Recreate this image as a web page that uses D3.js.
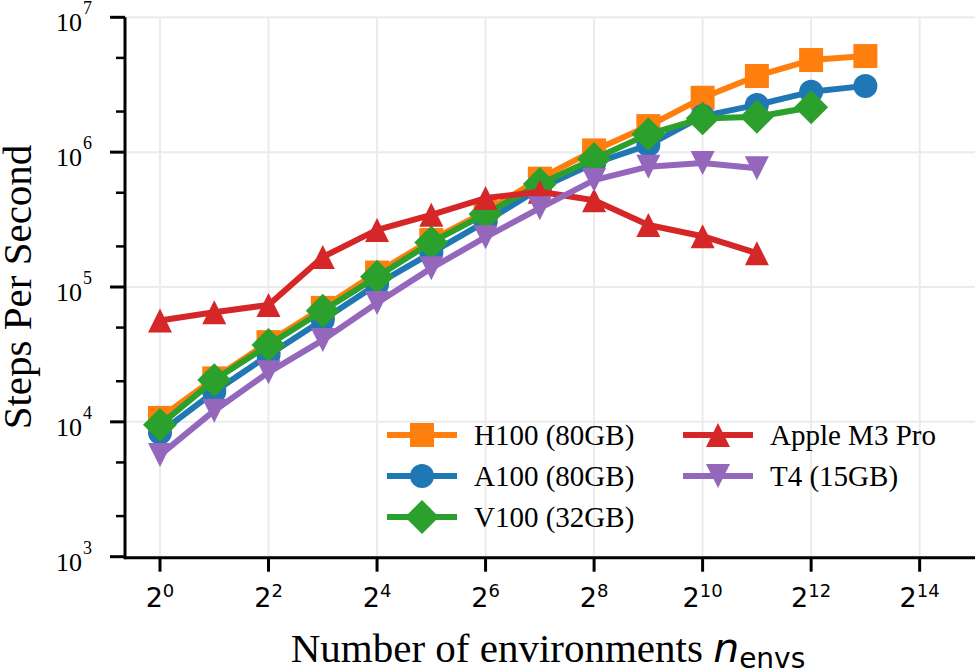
<!DOCTYPE html>
<html>
<head>
<meta charset="utf-8">
<script src="https://cdn.jsdelivr.net/npm/d3@7"></script>
<style>
  body { margin: 0; background: #fff; }
</style>
</head>
<body>
<div id="main"></div>
<script>
// ---- data ----
const nEnvs = [1, 2, 4, 8, 16, 32, 64, 128, 256, 512, 1024, 2048, 4096, 8192];
const h100 = [10700, 21000, 39000, 70000, 128000, 223000, 362000, 636000, 1030000, 1560000, 2530000, 3670000, 4820000, 5160000];
const a100 = [8300, 16700, 31300, 57000, 105000, 179000, 305000, 540000, 826000, 1130000, 1850000, 2240000, 2800000, 3100000];
const v100 = [9500, 20400, 37100, 66700, 119000, 214000, 348000, 581000, 889000, 1360000, 1780000, 1830000, 2150000];
const m3pro = [56500, 65000, 73600, 167000, 265000, 343000, 457000, 509000, 440000, 288000, 238000, 178000];
const t4 = [5670, 12100, 23300, 40400, 76000, 138000, 234000, 384000, 621000, 780000, 830000, 760000];

const seriesNames = ["H100 (80GB)", "A100 (80GB)", "V100 (32GB)", "Apple M3 Pro", "T4 (15GB)"];
const seriesValues = [h100, a100, v100, m3pro, t4];
const seriesColors = ["#ff7f0e", "#1f77b4", "#2ca02c", "#d62728", "#9467bd"];
const seriesMarkers = ["square", "circle", "diamond", "triangle", "triangleDown"];

const xTickExps = [0, 2, 4, 6, 8, 10, 12, 14];
const yTickExps = [3, 4, 5, 6, 7];
const yMinorSubs = [2, 5];

const ctx = {
    w: 976,
    h: 669,
    left: 125,
    right: 975,
    top: 17.3,
    bottom: 556.7,
    serif: "'Liberation Serif', 'Times New Roman', serif",
    sans: "'DejaVu Sans', sans-serif",
    ms: 24,
    lw: 6
};

// marker path, centred on 0,0
function markerPath(kind, ms) {
    const r = ms / 2;
    if (kind === "square") return `M${-r},${-r}H${r}V${r}H${-r}Z`;
    if (kind === "circle") return d3.symbol(d3.symbolCircle, Math.PI * r * r)();
    if (kind === "diamond") {
        const d = r * Math.SQRT2;
        return `M0,${-d}L${d},0L0,${d}L${-d},0Z`;
    }
    if (kind === "triangle") return `M0,${-r}L${r},${r}L${-r},${r}Z`;
    return `M0,${r}L${r},${-r}L${-r},${-r}Z`;
}

function createViz() {
    const svg = d3.select("#main").append("svg")
        .attr("width", ctx.w)
        .attr("height", ctx.h);

    const x = d3.scaleLog().base(2)
        .domain([Math.pow(2, -0.645), Math.pow(2, 15.02)])
        .range([ctx.left, ctx.right]);
    const y = d3.scaleLog()
        .domain([1e3, 1e7])
        .range([ctx.bottom, ctx.top]);

    // grid
    const grid = svg.append("g").attr("stroke", "#ebebeb").attr("stroke-width", 2);
    grid.selectAll("line.gx").data(xTickExps).enter().append("line")
        .attr("x1", d => x(Math.pow(2, d))).attr("x2", d => x(Math.pow(2, d)))
        .attr("y1", ctx.top).attr("y2", ctx.bottom);
    grid.selectAll("line.gy").data(yTickExps).enter().append("line")
        .attr("x1", ctx.left).attr("x2", ctx.right)
        .attr("y1", d => y(Math.pow(10, d))).attr("y2", d => y(Math.pow(10, d)));

    // series
    seriesValues.forEach((vals, i) => {
        const pts = vals.map((v, j) => [nEnvs[j], v]);
        const g = svg.append("g");
        g.append("path")
            .datum(pts)
            .attr("fill", "none")
            .attr("stroke", seriesColors[i])
            .attr("stroke-width", ctx.lw)
            .attr("stroke-linejoin", "round")
            .attr("d", d3.line().x(d => x(d[0])).y(d => y(d[1])));
        g.selectAll("path.m").data(pts).enter().append("path")
            .attr("class", "m")
            .attr("transform", d => `translate(${x(d[0])},${y(d[1])})`)
            .attr("d", markerPath(seriesMarkers[i], ctx.ms))
            .attr("fill", seriesColors[i]);
    });

    // axes
    const axG = svg.append("g").attr("stroke", "#000");
    axG.append("line")
        .attr("x1", ctx.left).attr("x2", ctx.right)
        .attr("y1", ctx.bottom + 1).attr("y2", ctx.bottom + 1)
        .attr("stroke-width", 3);
    axG.append("line")
        .attr("x1", ctx.left).attr("x2", ctx.left)
        .attr("y1", ctx.top).attr("y2", ctx.bottom + 2.5)
        .attr("stroke-width", 3);

    // x ticks
    axG.selectAll("line.xt").data(xTickExps).enter().append("line")
        .attr("x1", d => x(Math.pow(2, d))).attr("x2", d => x(Math.pow(2, d)))
        .attr("y1", ctx.bottom + 1).attr("y2", ctx.bottom + 15)
        .attr("stroke-width", 3);
    const xl = svg.append("g").selectAll("text").data(xTickExps).enter().append("text")
        .attr("x", d => x(Math.pow(2, d)))
        .attr("y", 606.5)
        .attr("text-anchor", "middle")
        .attr("font-family", ctx.sans)
        .attr("font-size", 27);
    xl.append("tspan").text("2");
    xl.append("tspan").attr("dy", -10).attr("font-size", 18).text(d => d);

    // y ticks, major and minor
    axG.selectAll("line.yt").data(yTickExps).enter().append("line")
        .attr("x1", ctx.left - 15).attr("x2", ctx.left)
        .attr("y1", d => y(Math.pow(10, d))).attr("y2", d => y(Math.pow(10, d)))
        .attr("stroke-width", 3);
    const minors = [];
    yTickExps.slice(0, -1).forEach(e => yMinorSubs.forEach(s => minors.push(s * Math.pow(10, e))));
    axG.selectAll("line.ym").data(minors).enter().append("line")
        .attr("x1", ctx.left - 9).attr("x2", ctx.left)
        .attr("y1", d => y(d)).attr("y2", d => y(d))
        .attr("stroke-width", 2.5);
    svg.append("g").selectAll("text").data(yTickExps).enter().append("text")
        .attr("x", 82)
        .attr("y", d => y(Math.pow(10, d)) + 14)
        .attr("text-anchor", "end")
        .attr("font-family", ctx.serif)
        .attr("font-size", 26)
        .text("10");
    svg.append("g").selectAll("text").data(yTickExps).enter().append("text")
        .attr("x", 83)
        .attr("y", d => y(Math.pow(10, d)) - 3)
        .attr("font-family", ctx.serif)
        .attr("font-size", 18)
        .text(d => d);

    // axis titles
    svg.append("text")
        .attr("transform", `translate(31,${(ctx.top + ctx.bottom) / 2}) rotate(-90)`)
        .attr("text-anchor", "middle")
        .attr("font-family", ctx.serif)
        .attr("font-size", 41)
        .text("Steps Per Second");
    const xt = svg.append("text")
        .attr("x", 548)
        .attr("y", 662)
        .attr("text-anchor", "middle")
        .attr("font-family", ctx.serif)
        .attr("font-size", 41);
    xt.append("tspan").text("Number of environments ");
    xt.append("tspan").attr("font-family", ctx.sans).attr("font-style", "oblique").text("n");
    xt.append("tspan").attr("font-family", ctx.sans).attr("font-size", 28).attr("dy", 6).text("envs");

    // legend, two columns filled column-first
    const legX = [387, 683];
    const legY = [435, 476, 517];
    const leg = svg.append("g").selectAll("g").data(seriesNames).enter().append("g")
        .attr("transform", (d, i) => `translate(${legX[i < 3 ? 0 : 1]},${legY[i < 3 ? i : i - 3]})`);
    leg.append("line")
        .attr("x1", 0).attr("x2", 70)
        .attr("stroke", (d, i) => seriesColors[i])
        .attr("stroke-width", ctx.lw);
    leg.append("path")
        .attr("transform", "translate(35,0)")
        .attr("d", (d, i) => markerPath(seriesMarkers[i], ctx.ms))
        .attr("fill", (d, i) => seriesColors[i]);
    leg.append("text")
        .attr("x", 87)
        .attr("y", 10)
        .attr("font-family", ctx.serif)
        .attr("font-size", 29)
        .text(d => d);
}

createViz();
</script>
</body>
</html>
